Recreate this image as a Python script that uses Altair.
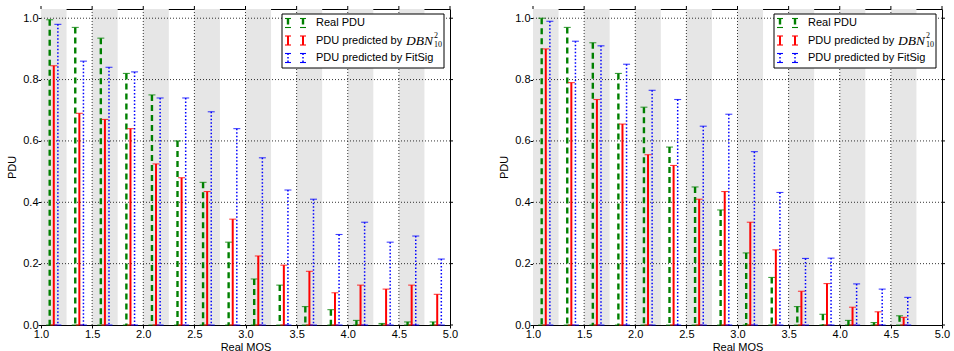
import altair as alt
import pandas as pd

# ---------------------------------------------------------------- data
# Centres of the real-MOS bins (bin width 0.25)
mos_left = [1.125, 1.375, 1.625, 1.875, 2.125, 2.375, 2.625, 2.875,
            3.125, 3.375, 3.625, 3.875, 4.125, 4.375, 4.625, 4.875]
mos_right = mos_left[:15]

# Left panel
real_left = [0.995, 0.97, 0.935, 0.82, 0.75, 0.60, 0.465, 0.27,
             0.15, 0.13, 0.06, 0.05, 0.015, 0.005, 0.01, 0.01]
dbn_left = [0.845, 0.69, 0.67, 0.64, 0.525, 0.48, 0.435, 0.345,
            0.225, 0.195, 0.175, 0.105, 0.13, 0.117, 0.13, 0.10]
fitsig_left = [0.98, 0.86, 0.84, 0.825, 0.74, 0.74, 0.695, 0.64,
               0.545, 0.44, 0.41, 0.295, 0.335, 0.27, 0.29, 0.215]

# Right panel
real_right = [1.0, 0.97, 0.92, 0.82, 0.71, 0.58, 0.45, 0.375,
              0.235, 0.155, 0.06, 0.035, 0.015, 0.008, 0.03]
dbn_right = [0.90, 0.79, 0.735, 0.655, 0.555, 0.52, 0.41, 0.435,
             0.335, 0.245, 0.11, 0.135, 0.058, 0.043, 0.025]
fitsig_right = [0.99, 0.925, 0.91, 0.85, 0.765, 0.735, 0.648, 0.687,
                0.565, 0.432, 0.217, 0.218, 0.134, 0.117, 0.09]

# Shaded background bands (every other bin)
band_start = [1.0, 1.5, 2.0, 2.5, 3.0, 3.5, 4.0, 4.5]
band_end = [1.25, 1.75, 2.25, 2.75, 3.25, 3.75, 4.25, 4.75]

x_ticks = [1.0, 1.5, 2.0, 2.5, 3.0, 3.5, 4.0, 4.5, 5.0]
y_ticks = [0.0, 0.2, 0.4, 0.6, 0.8, 1.0]

legend_labels = ["Real PDU", "PDU predicted by ", "PDU predicted by FitSig"]

# ---------------------------------------------------------------- style
FONT = "Liberation Sans"
W, H = 409, 316

# key, colour, dash, line width, x offset from bin centre
SERIES = [
    ("real", "#008000", [6, 4], 2.4, -0.04),
    ("dbn", "#ff0000", None, 2.0, 0.0),
    ("fitsig", "#0000ff", [1.5, 2], 1.5, 0.04),
]

xs = alt.Scale(domain=[1.0, 5.0], nice=False, zero=False)
ys = alt.Scale(domain=[0.0, 1.03], nice=False, zero=False)

AXIS_STYLE = dict(
    labelFont=FONT, labelFontSize=11, labelColor="black",
    titleFont=FONT, titleFontSize=11, titleFontWeight="normal", titleColor="black",
    domain=False, grid=False, ticks=True, tickColor="black", tickSize=3,
    labelFlush=False, labelOverlap=False,
)
# the same axis spec is given to every layer so the shared axes merge cleanly
x_axis = alt.Axis(values=x_ticks, format=".1f", title="Real MOS",
                  labelPadding=0, titlePadding=2, **AXIS_STYLE)
y_axis = alt.Axis(values=y_ticks, format=".1f", title="PDU",
                  labelPadding=0, titlePadding=5, **AXIS_STYLE)


def X(field):
    return alt.X(field, scale=xs, axis=x_axis)


def Y(field):
    return alt.Y(field, scale=ys, axis=y_axis)


bands_df = pd.DataFrame({"start": band_start, "end": band_end})
xgrid_df = pd.DataFrame({"v": x_ticks[1:-1]})
ygrid_df = pd.DataFrame({"v": y_ticks[1:]})
xtick_df = pd.DataFrame({"v": x_ticks})
ytick_df = pd.DataFrame({"v": y_ticks})
one_row = pd.DataFrame({"k": [0]})

# legend geometry, in pixels inside the plot area
LEG_X0, LEG_X1, LEG_Y0, LEG_Y1 = 241, 403, 5, 59
LEG_ROWS = [14, 31.5, 49]
LEG_SYM_X = [247, 262]
LEG_TEXT_X = 275


def dash_kw(dash):
    return {"strokeDash": dash} if dash else {}


def legend_layers():
    base = alt.Chart(one_row)
    layers = [
        base.mark_rect(fill="white", stroke="black", strokeWidth=1).encode(
            x=alt.value(LEG_X0), x2=alt.value(LEG_X1),
            y=alt.value(LEG_Y0), y2=alt.value(LEG_Y1))
    ]
    for (key, color, dash, sw, _), label, cy in zip(SERIES, legend_labels, LEG_ROWS):
        for sx in LEG_SYM_X:
            layers.append(base.mark_rule(color=color, strokeWidth=sw, **dash_kw(dash)).encode(
                x=alt.value(sx), y=alt.value(cy - 4.5), y2=alt.value(cy + 4.5)))
            for cap in (cy - 4.5, cy + 4.5):
                layers.append(base.mark_rule(color=color, strokeWidth=1.1).encode(
                    x=alt.value(sx - 3), x2=alt.value(sx + 3), y=alt.value(cap)))
        layers.append(base.mark_text(align="left", baseline="middle", font=FONT,
                                     fontSize=11, color="black").encode(
            x=alt.value(LEG_TEXT_X), y=alt.value(cy), text=alt.value(label)))
        if key == "dbn":
            layers.append(base.mark_text(align="left", baseline="middle",
                                         font="Liberation Serif", fontStyle="italic",
                                         fontSize=13.5, color="black").encode(
                x=alt.value(LEG_TEXT_X + 90), y=alt.value(cy + 0.5), text=alt.value("DBN")))
            layers.append(base.mark_text(align="left", baseline="middle",
                                         font="Liberation Serif", fontSize=8,
                                         color="black").encode(
                x=alt.value(LEG_TEXT_X + 118), y=alt.value(cy - 4.5), text=alt.value("2")))
            layers.append(base.mark_text(align="left", baseline="middle",
                                         font="Liberation Serif", fontSize=8,
                                         color="black").encode(
                x=alt.value(LEG_TEXT_X + 118), y=alt.value(cy + 4), text=alt.value("10")))
    return layers


def panel(mos, real, dbn, fitsig):
    values = {"real": real, "dbn": dbn, "fitsig": fitsig}
    layers = []

    # shaded bands (full height)
    layers.append(alt.Chart(bands_df).mark_rect(color="#e6e6e6").encode(
        x=X("start:Q"), x2="end:Q"))

    # dotted grid
    layers.append(alt.Chart(xgrid_df).mark_rule(color="black", strokeWidth=0.8,
                                                strokeDash=[1, 2]).encode(x=X("v:Q")))
    layers.append(alt.Chart(ygrid_df).mark_rule(color="black", strokeWidth=0.8,
                                                strokeDash=[1, 2]).encode(y=Y("v:Q")))

    # error-bar style stems with caps
    for key, color, dash, sw, off in SERIES:
        df = pd.DataFrame({"mos": mos, "pdu": values[key]})
        df["xpos"] = df["mos"] + off
        df["zero"] = 0.0
        base = alt.Chart(df)
        layers.append(base.mark_rule(color=color, strokeWidth=sw, **dash_kw(dash)).encode(
            x=X("xpos:Q"), y=Y("pdu:Q"), y2="zero:Q"))
        layers.append(base.mark_tick(color=color, orient="horizontal", size=7,
                                     thickness=1.1, opacity=0.75).encode(
            x=X("xpos:Q"), y=Y("pdu:Q")))
        layers.append(base.mark_tick(color=color, orient="horizontal", size=7,
                                     thickness=1.1, opacity=0.75).encode(
            x=X("xpos:Q"), y=Y("zero:Q")))

    # outward ticks on the top and right frame edges
    layers.append(alt.Chart(xtick_df).mark_rule(color="black", strokeWidth=1).encode(
        x=X("v:Q"), y=alt.value(-3), y2=alt.value(0)))
    layers.append(alt.Chart(ytick_df).mark_rule(color="black", strokeWidth=1).encode(
        y=Y("v:Q"), x=alt.value(W), x2=alt.value(W + 3)))

    layers.extend(legend_layers())
    return alt.layer(*layers).properties(width=W, height=H)


left = panel(mos_left, real_left, dbn_left, fitsig_left)
right = panel(mos_right, real_right, dbn_right, fitsig_right)

chart = (
    alt.hconcat(left, right, spacing=39)
    .properties(padding={"left": 6, "top": 5, "right": 0, "bottom": 0},
                background="white")
    .configure_view(stroke="black", strokeWidth=1)
)

chart.save("out.html", embed_options={"renderer": "svg", "actions": False})
